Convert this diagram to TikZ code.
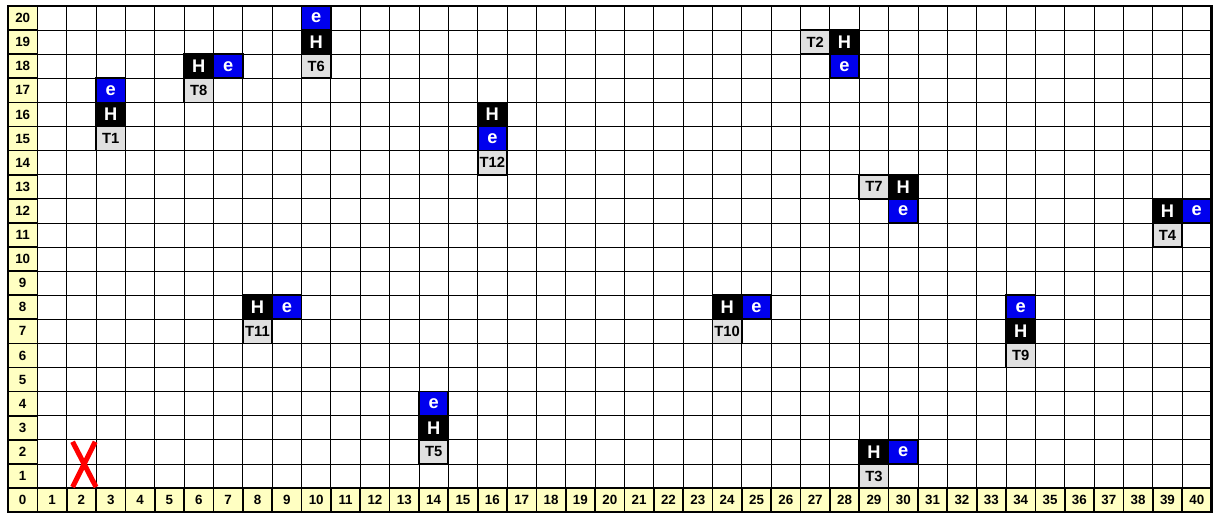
\documentclass[tikz,border=0pt]{standalone}
\usepackage{fontspec}
\setsansfont{Liberation Sans}
\definecolor{labyellow}{RGB}{255,255,194}
\definecolor{eblue}{RGB}{0,0,238}
\definecolor{tgray}{RGB}{224,224,224}
\tikzset{
  cell/.style={minimum width=0.7338cm, minimum height=0.6025cm, inner sep=0pt,
    outer sep=0pt, draw=black, line width=1.2pt},
  numcell/.style={cell, fill=labyellow, font=\sffamily\bfseries\fontsize{9.5}{10}\selectfont},
  hcell/.style={cell, fill=black, text=white, font=\sffamily\bfseries\fontsize{13}{14}\selectfont},
  ecell/.style={cell, fill=eblue, text=white, font=\sffamily\bfseries\fontsize{13}{14}\selectfont},
  tcell/.style={cell, fill=tgray, font=\sffamily\bfseries\fontsize{10.5}{11}\selectfont},
  gridline/.style={line width=0.6pt, black}
}
\begin{document}
\begin{tikzpicture}[x=0.7338cm, y=0.6025cm]
  \useasboundingbox (-0.273,-0.245) rectangle (41.12,21.25);
  % Thin grid lines
  \foreach \c in {1,...,40}{
    \draw[gridline] (\c,0) -- (\c,21);
  }
  \foreach \r in {1,...,20}{
    \draw[gridline] (0,\r) -- (41,\r);
  }
  % Row numbers (left) and column numbers (bottom)
  \foreach \r in {1,...,20}{
    \node[numcell] (row\r) at (0.5,\r+0.5) {\r};
  }
  \foreach \c in {0,...,40}{
    \node[numcell] (col\c) at (\c+0.5,0.5) {\c};
  }
  % Targets: number / H cell / e cell / T cell
  \foreach \t/\hc/\hr/\ec/\er/\tc/\tr in {1/3/16/3/17/3/15, 2/28/19/28/18/27/19,
      3/29/2/30/2/29/1, 4/39/12/40/12/39/11, 5/14/3/14/4/14/2,
      6/10/19/10/20/10/18, 7/30/13/30/12/29/13, 8/6/18/7/18/6/17,
      9/34/7/34/8/34/6, 10/24/8/25/8/24/7, 11/8/8/9/8/8/7,
      12/16/16/16/15/16/14}{
    \node[hcell] (h\t) at (\hc+0.5,\hr+0.5) {H};
    \node[ecell] (e\t) at (\ec+0.5,\er+0.5) {e};
    \node[tcell] (t\t) at (\tc+0.5,\tr+0.5) {T\t};
  }
  % Red cross
  \draw[red, line width=3.6pt] (2.2,2.92) -- (3.0,1.04);
  \draw[red, line width=3.6pt] (2.97,2.92) -- (2.2,1.04);
  % Outer frame
  \draw[line width=1.7pt] (0,0) rectangle (41,21);
\end{tikzpicture}
\end{document}
